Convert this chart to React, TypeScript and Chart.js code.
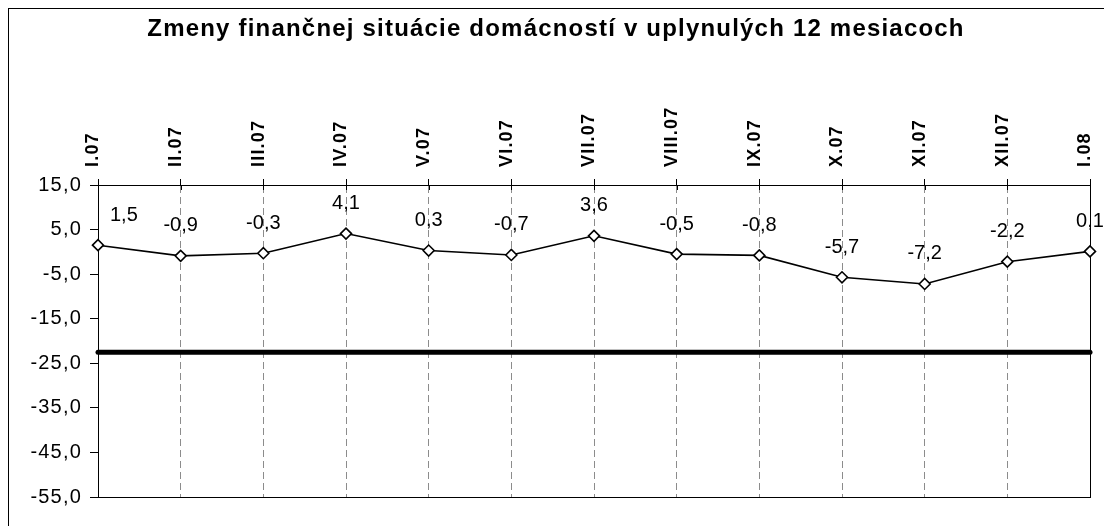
import React, { useEffect, useRef } from "react";
import { Chart, registerables } from "chart.js";

Chart.register(...registerables);

const TITLE = "Zmeny finančnej situácie domácností v uplynulých 12 mesiacoch";
const categories = ["I.07", "II.07", "III.07", "IV.07", "V.07", "VI.07", "VII.07", "VIII.07", "IX.07", "X.07", "XI.07", "XII.07", "I.08"];
const values = [1.5, -0.9, -0.3, 4.1, 0.3, -0.7, 3.6, -0.5, -0.8, -5.7, -7.2, -2.2, 0.1];
const referenceLevel = -22.5;
const referenceLine = categories.map(() => referenceLevel);
const yMin = -55;
const yMax = 15;
const yStep = 10;

const FONT = "'Liberation Sans', Arial, Helvetica, sans-serif";
const fmt = (v: number) => v.toFixed(1).replace(".", ",");

const spacing = {
  id: "spacing",
  beforeDraw(chart: any) {
    (chart.ctx as any).letterSpacing = "1.2px";
  },
};

const plotBorder = {
  id: "plotBorder",
  beforeDatasetsDraw(chart: any) {
    const { ctx, chartArea } = chart;
    const xs = chart.scales.x;
    ctx.save();
    ctx.strokeStyle = "#000";
    ctx.lineWidth = 1;
    ctx.strokeRect(
      Math.round(chartArea.left) + 0.5,
      Math.round(chartArea.top) + 0.5,
      Math.round(chartArea.right - chartArea.left),
      Math.round(chartArea.bottom - chartArea.top)
    );
    // inner part of the crossing tick marks on the top axis
    ctx.beginPath();
    categories.forEach((_, i) => {
      const x = Math.round(xs.getPixelForValue(i)) + 0.5;
      ctx.moveTo(x, chartArea.top);
      ctx.lineTo(x, chartArea.top + 5);
    });
    ctx.stroke();
    ctx.restore();
  },
};

const dataLabels = {
  id: "dataLabels",
  afterDatasetsDraw(chart: any) {
    const { ctx, chartArea } = chart;
    const meta = chart.getDatasetMeta(0);
    ctx.save();
    (ctx as any).letterSpacing = "0px";
    ctx.font = `20px ${FONT}`;
    ctx.fillStyle = "#000";
    ctx.textAlign = "center";
    ctx.textBaseline = "middle";
    meta.data.forEach((pt: any, i: number) => {
      const txt = fmt(values[i]);
      const w = ctx.measureText(txt).width;
      let x = pt.x;
      if (x - w / 2 < chartArea.left + 12) x = chartArea.left + 12 + w / 2;
      ctx.fillText(txt, x, pt.y - 30);
    });
    ctx.restore();
  },
};

export default function App() {
  const ref = useRef<HTMLCanvasElement | null>(null);

  useEffect(() => {
    if (!ref.current) return;
    const chart = new Chart(ref.current, {
      type: "line",
      data: {
        labels: categories,
        datasets: [
          {
            data: values,
            borderColor: "#000",
            borderWidth: 1.6,
            pointStyle: "rectRot",
            pointRadius: 5.5,
            pointBackgroundColor: "#fff",
            pointBorderColor: "#000",
            pointBorderWidth: 1.6,
            tension: 0,
            clip: false,
          },
          {
            data: referenceLine,
            borderColor: "#000",
            borderWidth: 5,
            pointRadius: 0,
            borderCapStyle: "round",
            tension: 0,
            clip: false,
          },
        ],
      } as any,
      options: {
        animation: false,
        responsive: false,
        maintainAspectRatio: false,
        layout: { padding: { left: 13, right: 22, bottom: 29, top: 0 } },
        plugins: {
          legend: { display: false },
          tooltip: { enabled: false },
          title: {
            display: true,
            text: TITLE,
            color: "#000",
            font: { family: FONT, size: 24, weight: "bold" },
            padding: { top: 6, bottom: 8 },
          },
        },
        scales: {
          x: {
            position: "top",
            offset: false,
            afterFit: (s: any) => {
              s.height = 133.2;
            },
            grid: {
              display: true,
              drawOnChartArea: true,
              drawTicks: true,
              color: "#8c8c8c",
              lineWidth: 1,
              tickLength: 6,
              tickColor: "#000",
            },
            border: { display: true, color: "#000", width: 1, dash: [7, 4] },
            ticks: {
              color: "#000",
              font: { family: FONT, size: 18, weight: "bold" },
              minRotation: 90,
              maxRotation: 90,
              padding: 12,
              labelOffset: 17,
              autoSkip: false,
            },
          },
          y: {
            min: yMin,
            max: yMax,
            afterFit: (s: any) => {
              s.width = 76;
            },
            grid: {
              display: true,
              drawOnChartArea: false,
              drawTicks: true,
              tickLength: 8,
              tickColor: "#000",
            },
            border: { display: true, color: "#000", width: 1 },
            ticks: {
              stepSize: yStep,
              color: "#000",
              font: { family: FONT, size: 20 },
              padding: 8,
              callback: (v: any) => fmt(Number(v)),
            },
          },
        },
      } as any,
      plugins: [spacing, plotBorder, dataLabels],
    });
    return () => chart.destroy();
  }, []);

  return (
    <div
      style={{
        position: "relative",
        width: 1104,
        height: 518,
        boxSizing: "border-box",
        borderTop: "1px solid #000",
        borderLeft: "1px solid #000",
      }}
    >
      <canvas ref={ref} width={1103} height={517} style={{ display: "block" }} />
    </div>
  );
}
